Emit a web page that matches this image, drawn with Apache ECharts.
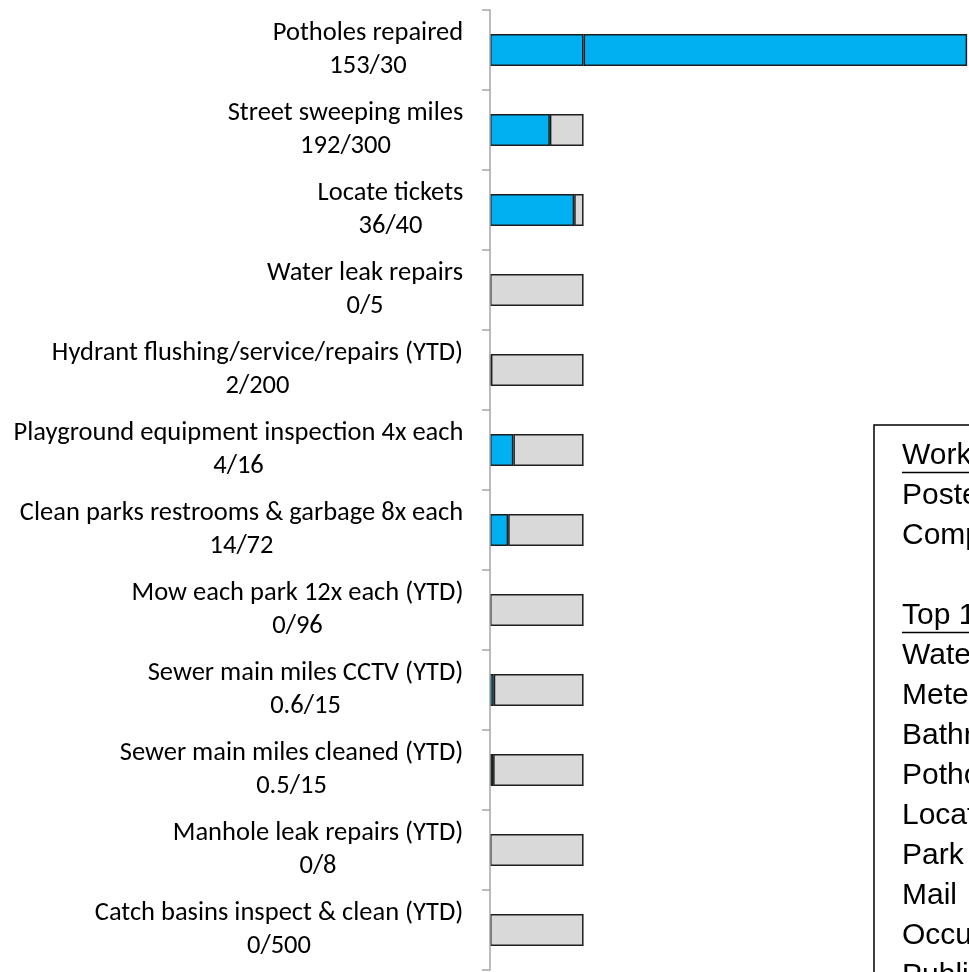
<!DOCTYPE html>
<html>
<head>
<meta charset="utf-8">
<script src="https://cdn.jsdelivr.net/npm/echarts@6/dist/echarts.min.js"></script>
<style>
html,body{margin:0;padding:0;background:#fff;overflow:hidden}
#chart{width:969px;height:972px}
</style>
</head>
<body>
<div id="chart"></div>
<script>
// ---- data ----
const categories = [
  'Potholes repaired',
  'Street sweeping miles',
  'Locate tickets',
  'Water leak repairs',
  'Hydrant flushing/service/repairs (YTD)',
  'Playground equipment inspection 4x each',
  'Clean parks restrooms & garbage 8x each',
  'Mow each park 12x each (YTD)',
  'Sewer main miles CCTV (YTD)',
  'Sewer main miles cleaned (YTD)',
  'Manhole leak repairs (YTD)',
  'Catch basins inspect & clean (YTD)'
];
const actual = [153, 192, 36, 0, 2, 4, 14, 0, 0.6, 0.5, 0, 0];
const target = [30, 300, 40, 5, 200, 16, 72, 96, 15, 15, 8, 500];
const noteLines = ['Work Orders', 'Posted', 'Completed', '', 'Top 10', 'Water', 'Meter', 'Bathroom', 'Pothole', 'Locate', 'Park', 'Mail', 'Occupancy', 'Public'];
const underlined = [0, 4];

// ---- derived series (share of target) ----
const ratio = actual.map((a, i) => a / target[i]);
const done = ratio.map(r => r > 0 ? Math.min(r, 1) : null);
const remaining = ratio.map(r => r < 1 ? 1 - r : null);
const over = ratio.map(r => r > 1 ? r - 1 : null);

const LABEL_FONT = 'Carlito, Lato, sans-serif';
const LABEL_SIZE = 26.5;
const ctx = document.createElement('canvas').getContext('2d');
ctx.font = LABEL_SIZE + 'px ' + LABEL_FONT;
const rich = {};
categories.forEach((c, i) => {
  const t2 = actual[i] + '/' + target[i];
  const w = Math.ceil(Math.max(ctx.measureText(c).width, ctx.measureText(t2).width)) + 1;
  rich['c' + i] = { width: w, align: 'center', fontSize: LABEL_SIZE, fontFamily: LABEL_FONT, lineHeight: 33, color: '#000' };
});

const chart = echarts.init(document.getElementById('chart'));
const barStyle = (color) => ({ color: color, borderColor: '#1e1e1e', borderWidth: 1.5 });

const graphics = [{
  type: 'rect', z: 100,
  shape: { x: 874, y: 425, width: 200, height: 700 },
  style: { fill: '#fff', stroke: '#000', lineWidth: 1.5 }
}];
noteLines.forEach((t, i) => {
  if (!t) return;
  const y = 456 + i * 40;
  graphics.push({
    type: 'text', z: 101, x: 902, y: y,
    style: { text: t, fill: '#000', font: '30px "Liberation Sans", Arial, sans-serif', textVerticalAlign: 'middle', textAlign: 'left' }
  });
  if (underlined.indexOf(i) >= 0) {
    graphics.push({
      type: 'line', z: 101,
      shape: { x1: 902, y1: y + 16.5, x2: 1000, y2: y + 16.5 },
      style: { stroke: '#000', lineWidth: 1.5 }
    });
  }
});

chart.setOption({
  animation: false,
  grid: { left: 490, right: 0, top: 10, height: 960 },
  xAxis: { type: 'value', min: 0, max: 5.12, show: false },
  yAxis: {
    type: 'category', data: categories, inverse: true, z: 5,
    axisLine: { show: true, lineStyle: { color: '#a6a6a6', width: 1.5 } },
    axisTick: { show: true, length: 8, lineStyle: { color: '#a6a6a6', width: 1.5 } },
    axisLabel: {
      margin: 26, align: 'right', rich: rich,
      formatter: (v, i) => '{c' + i + '|' + v + '}\n{c' + i + '|' + actual[i] + '/' + target[i] + '}'
    },
    splitLine: { show: false }
  },
  series: [
    { type: 'bar', stack: 's', data: done, barWidth: 32, itemStyle: barStyle('#00b0f0') },
    { type: 'bar', stack: 's', data: remaining, barWidth: 32, itemStyle: barStyle('#d9d9d9') },
    { type: 'bar', stack: 's', data: over, barWidth: 32, itemStyle: barStyle('#00b0f0') }
  ],
  graphic: graphics
});
</script>
</body>
</html>
